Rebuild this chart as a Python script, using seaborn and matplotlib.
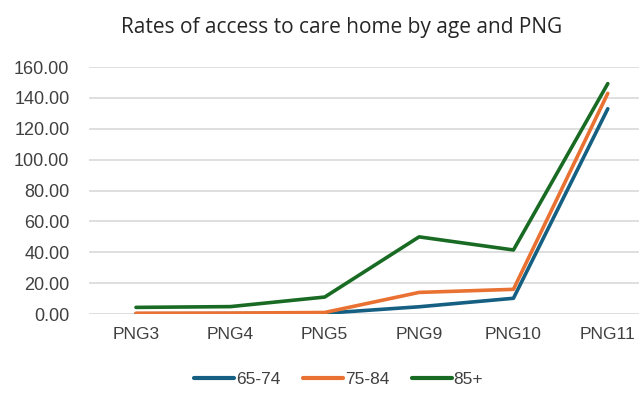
import matplotlib
matplotlib.use("Agg")
import matplotlib.pyplot as plt
import seaborn as sns
import pandas as pd

# Rates per PNG group for each age band
categories = ["PNG3", "PNG4", "PNG5", "PNG9", "PNG10", "PNG11"]
rate_65_74 = [0.2, 0.3, 0.5, 4.7, 10.2, 133.0]
rate_75_84 = [0.5, 0.6, 1.0, 14.0, 16.0, 143.0]
rate_85_plus = [4.3, 4.8, 11.0, 50.0, 41.5, 149.3]
age_bands = ["65-74", "75-84", "85+"]
colors = ["#156082", "#E97132", "#196B24"]

df = pd.DataFrame({
    "PNG": categories * 3,
    "Rate": rate_65_74 + rate_75_84 + rate_85_plus,
    "Age": [age_bands[0]] * 6 + [age_bands[1]] * 6 + [age_bands[2]] * 6,
})

sns.set_style("white")
plt.rcParams["font.family"] = ["Liberation Sans", "DejaVu Sans"]

fig = plt.figure(figsize=(6.39, 3.97), dpi=100)
ax = fig.add_axes([0.139, 0.209, 0.886, 0.622])

x_pos = {c: i for i, c in enumerate(categories)}
df["x"] = df["PNG"].map(x_pos)

sns.lineplot(data=df, x="x", y="Rate", hue="Age", palette=colors,
             linewidth=2.6, ax=ax, legend=False, sort=False)

ax.set_xlim(-0.5, len(categories) - 0.5)
ax.set_ylim(0, 160)
ax.set_yticks(range(0, 161, 20))
ax.set_yticklabels([f"{v:.2f}" for v in range(0, 161, 20)], fontsize=13, color="#404040")
ax.set_xticks(range(len(categories)))
ax.set_xticklabels(categories, fontsize=12.5, color="#404040")
ax.tick_params(axis="x", length=0, pad=9)
ax.tick_params(axis="y", length=0, pad=14)
ax.grid(axis="y", color="#d9d9d9", linewidth=1.2)
ax.set_axisbelow(True)
for s in ax.spines.values():
    s.set_visible(False)
ax.set_xlabel("")
ax.set_ylabel("")

fig.text(0.535, 0.93, "Rates of access to care home by age and PNG",
         ha="center", va="center", fontsize=15, color="#262626",
         family=["Open Sans", "DejaVu Sans"])

handles = [plt.Line2D([], [], color=c, linewidth=3) for c in colors]
fig.legend(handles, age_bands, loc="center", bbox_to_anchor=(0.53, 0.045),
           ncol=3, frameon=False, fontsize=12.5, handlelength=2.3,
           handletextpad=0.1, columnspacing=1.3,
           labelcolor="#404040")

fig.savefig("out.png", dpi=100)
